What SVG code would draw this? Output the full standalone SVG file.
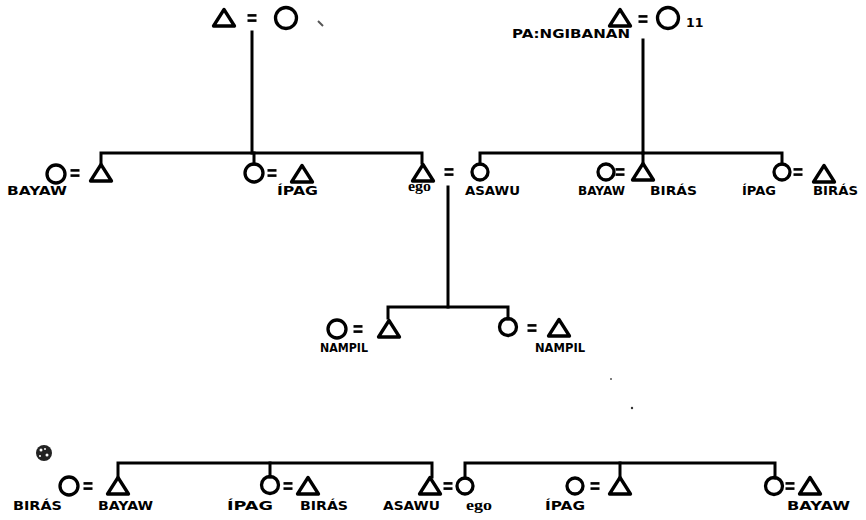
<svg xmlns="http://www.w3.org/2000/svg" width="866" height="520" viewBox="0 0 866 520">
<style>
.ln{fill:none;stroke:#000;stroke-width:3;stroke-linecap:square}
.sym{fill:none;stroke:#000;stroke-width:3.3;stroke-linejoin:round}
.eq{stroke:#000;stroke-width:2.6}
.lb{font-family:"DejaVu Sans","Liberation Sans",sans-serif;font-weight:700;font-size:12.5px;fill:#000}
.eg{font-family:"Liberation Serif",serif;font-weight:700;font-size:15px;fill:#000}
</style>
<rect width="866" height="520" fill="#fff"/>
<defs>
<path id="tri" d="M-10.5,8 L0,-8.5 L10.5,8 Z"/>
<g id="eq"><line x1="-4.5" y1="-2.6" x2="4.5" y2="-2.6"/><line x1="-4.5" y1="2.6" x2="4.5" y2="2.6"/></g>
</defs>

<g id="connectors" class="ln">
<line x1="252" y1="32" x2="252" y2="153"/>
<line x1="643" y1="40" x2="643" y2="153"/>
<polyline points="101,163 101,153 422,153 422,163"/>
<line x1="254" y1="153" x2="254" y2="164"/>
<polyline points="480,164 480,153 782,153 782,164"/>
<line x1="643" y1="153" x2="643" y2="164"/>
<line x1="448" y1="187" x2="448" y2="307"/>
<polyline points="388,318 388,307 508,307 508,319"/>
<polyline points="118,477 118,463 432,463 432,477"/>
<line x1="270" y1="463" x2="270" y2="477"/>
<polyline points="465,478 465,463 775,463 775,478"/>
<line x1="620" y1="463" x2="620" y2="477"/>
</g>

<g id="top-left-parents">
<use href="#tri" x="224" y="18" class="sym"/>
<use href="#eq" x="252" y="18" class="eq"/>
<circle cx="286" cy="18" r="10.5" class="sym"/>
</g>

<g id="top-right-parents">
<use href="#tri" x="620" y="18" class="sym"/>
<use href="#eq" x="643" y="19" class="eq"/>
<circle cx="668" cy="18" r="10.5" class="sym"/>
<text x="630" y="38" class="lb" text-anchor="end" textLength="118" lengthAdjust="spacingAndGlyphs">PA:NGIBANAN</text>
<text x="686" y="27" class="lb" font-size="9">11</text>
</g>

<g id="bayaw-1">
<circle cx="56" cy="174" r="9" class="sym"/>
<use href="#eq" x="75" y="173" class="eq"/>
<use href="#tri" x="101" y="173" class="sym"/>
<text x="7" y="195" class="lb" textLength="60" lengthAdjust="spacingAndGlyphs">BAYAW</text>
</g>

<g id="ipag-1">
<circle cx="254" cy="173" r="9" class="sym"/>
<use href="#eq" x="272" y="173" class="eq"/>
<use href="#tri" x="302" y="174" class="sym"/>
<text x="277" y="195" class="lb" textLength="41" lengthAdjust="spacingAndGlyphs">ÍPAG</text>
</g>

<g id="ego-1">
<use href="#tri" x="423" y="173" class="sym"/>
<use href="#eq" x="449" y="172" class="eq"/>
<circle cx="480" cy="172" r="8" class="sym"/>
<text x="408" y="191" class="eg" textLength="23" lengthAdjust="spacingAndGlyphs">ego</text>
<text x="465" y="195" class="lb" textLength="55" lengthAdjust="spacingAndGlyphs">ASAWU</text>
</g>

<g id="bayaw-biras-1">
<circle cx="606" cy="172" r="8" class="sym"/>
<use href="#eq" x="620" y="172" class="eq"/>
<use href="#tri" x="643" y="172" class="sym"/>
<text x="578" y="195" class="lb" textLength="47" lengthAdjust="spacingAndGlyphs">BAYAW</text>
<text x="650" y="195" class="lb" textLength="47" lengthAdjust="spacingAndGlyphs">BIRÁS</text>
</g>

<g id="ipag-biras-1">
<circle cx="782" cy="172" r="8" class="sym"/>
<use href="#eq" x="798" y="172" class="eq"/>
<use href="#tri" x="824" y="174" class="sym"/>
<text x="742" y="195" class="lb" textLength="34" lengthAdjust="spacingAndGlyphs">ÍPAG</text>
<text x="813" y="195" class="lb" textLength="45" lengthAdjust="spacingAndGlyphs">BIRÁS</text>
</g>

<g id="nampil-1">
<circle cx="337" cy="329" r="9" class="sym"/>
<use href="#eq" x="358" y="329" class="eq"/>
<use href="#tri" x="389" y="329" class="sym"/>
<text x="320" y="352" class="lb" textLength="48" lengthAdjust="spacingAndGlyphs">NAMPIL</text>
</g>

<g id="nampil-2">
<circle cx="508" cy="327" r="8.5" class="sym"/>
<use href="#eq" x="532" y="328" class="eq"/>
<use href="#tri" x="559" y="328" class="sym"/>
<text x="535" y="352" class="lb" textLength="50" lengthAdjust="spacingAndGlyphs">NAMPIL</text>
</g>

<g id="biras-bayaw-2">
<circle cx="69" cy="486" r="9" class="sym"/>
<use href="#eq" x="88" y="486" class="eq"/>
<use href="#tri" x="118" y="486" class="sym"/>
<text x="13" y="510" class="lb" textLength="49" lengthAdjust="spacingAndGlyphs">BIRÁS</text>
<text x="98" y="510" class="lb" textLength="55" lengthAdjust="spacingAndGlyphs">BAYAW</text>
</g>

<g id="ipag-biras-2">
<circle cx="270" cy="485" r="8.5" class="sym"/>
<use href="#eq" x="288" y="486" class="eq"/>
<use href="#tri" x="308" y="486" class="sym"/>
<text x="227" y="510" class="lb" textLength="46" lengthAdjust="spacingAndGlyphs">ÍPAG</text>
<text x="300" y="510" class="lb" textLength="48" lengthAdjust="spacingAndGlyphs">BIRÁS</text>
</g>

<g id="ego-2">
<use href="#tri" x="430" y="486" class="sym"/>
<use href="#eq" x="448" y="486" class="eq"/>
<circle cx="465" cy="486" r="8" class="sym"/>
<text x="383" y="510" class="lb" textLength="57" lengthAdjust="spacingAndGlyphs">ASAWU</text>
<text x="466" y="510" class="eg" textLength="26" lengthAdjust="spacingAndGlyphs">ego</text>
</g>

<g id="ipag-2">
<circle cx="575" cy="486" r="8" class="sym"/>
<use href="#eq" x="595" y="486" class="eq"/>
<use href="#tri" x="620" y="486" class="sym"/>
<text x="545" y="510" class="lb" textLength="40" lengthAdjust="spacingAndGlyphs">ÍPAG</text>
</g>

<g id="bayaw-2">
<circle cx="774" cy="486" r="8.5" class="sym"/>
<use href="#eq" x="790" y="486" class="eq"/>
<use href="#tri" x="810" y="486" class="sym"/>
<text x="787" y="510" class="lb" textLength="63" lengthAdjust="spacingAndGlyphs">BAYAW</text>
</g>

<g id="marks">
<circle cx="44" cy="453" r="8" fill="#222"/>
<circle cx="41" cy="450" r="1.5" fill="#fff"/>
<circle cx="47" cy="455" r="1.5" fill="#fff"/>
<circle cx="45" cy="449" r="1" fill="#fff"/>
<circle cx="40" cy="456" r="1" fill="#fff"/>
<path d="M318,21 L323,26" stroke="#555" stroke-width="2"/>
<circle cx="611" cy="379" r="1" fill="#555"/>
<circle cx="632" cy="408" r="1.2" fill="#333"/>
</g>
</svg>
